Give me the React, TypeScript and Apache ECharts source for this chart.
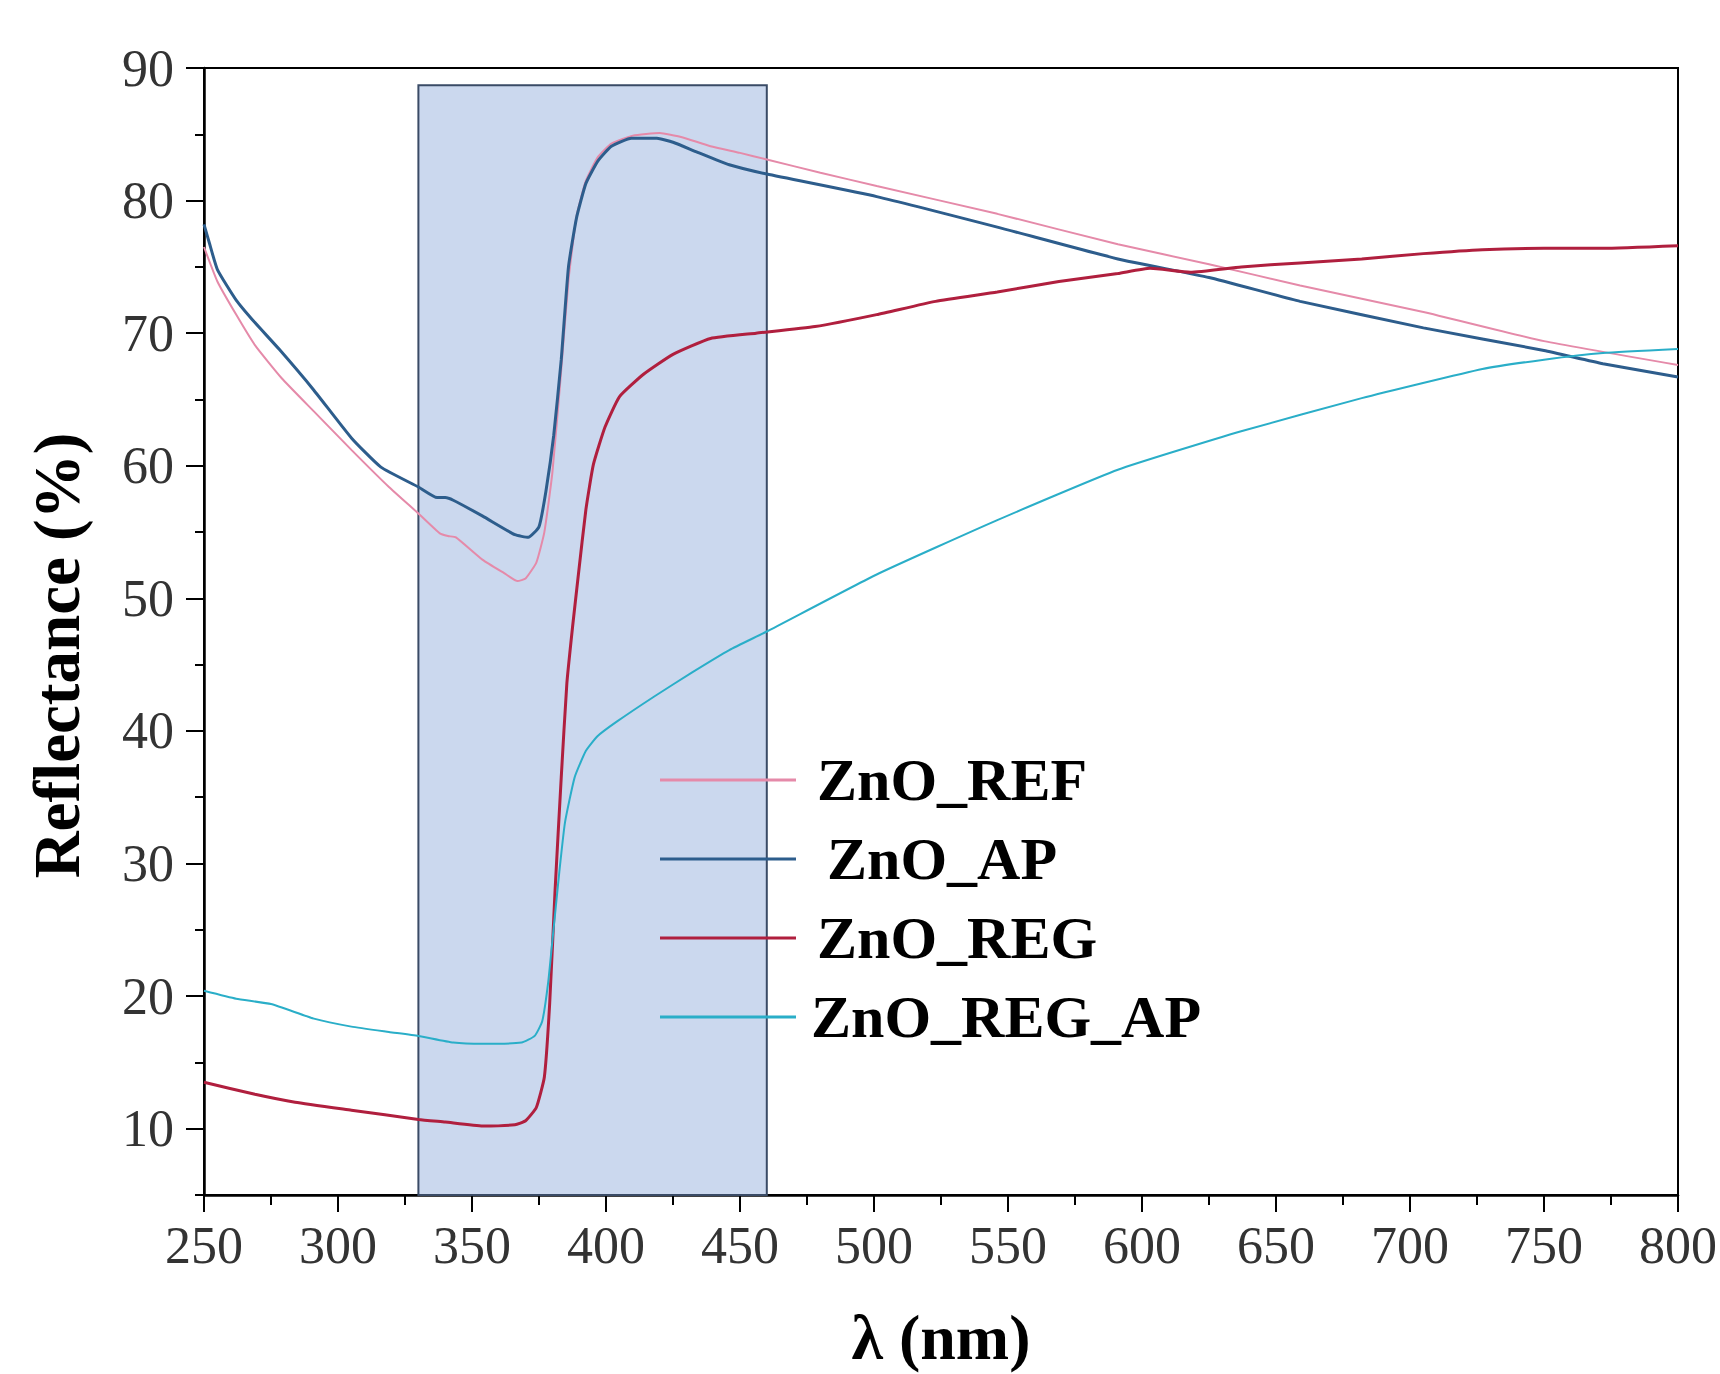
import React, { useEffect, useRef } from 'react';
import * as echarts from 'echarts';

// ---- data ----
const seriesNames = ['ZnO_REF', 'ZnO_AP', 'ZnO_REG', 'ZnO_REG_AP'];

const refWl = [250, 255, 262, 269, 279, 291, 305, 319, 330, 338, 341, 344, 354, 362, 367, 370, 374, 377, 380, 383, 386, 389, 392.5, 397, 402, 410, 420, 428, 439, 450, 460, 480, 501, 546, 591, 625, 659, 705, 750, 800];
const refR = [76.5, 73.9, 71.4, 69.1, 66.6, 64.1, 61.2, 58.4, 56.4, 54.9, 54.7, 54.6, 52.9, 51.9, 51.3, 51.5, 52.7, 55.0, 59.5, 66.5, 74.0, 78.8, 81.5, 83.3, 84.3, 84.9, 85.1, 84.8, 84.1, 83.6, 83.1, 82.1, 81.1, 79.0, 76.7, 75.2, 73.6, 71.6, 69.4, 67.6];

const apWl = [250, 252, 255, 262, 269, 278, 291, 305, 316, 330, 337, 340, 343, 354, 366, 371, 375, 377.6, 380.5, 383.3, 386, 389, 392.5, 397, 402, 409.5, 419, 425, 433.5, 446, 460, 501, 546, 591, 625, 659, 705, 750, 772, 800];
const apR = [78.2, 76.8, 74.8, 72.5, 70.8, 68.8, 65.7, 62.1, 59.9, 58.4, 57.6, 57.6, 57.4, 56.2, 54.8, 54.6, 55.4, 58.1, 62.3, 68.0, 75.0, 78.7, 81.3, 83.0, 84.1, 84.7, 84.7, 84.4, 83.7, 82.7, 82.0, 80.3, 78.0, 75.6, 74.2, 72.4, 70.4, 68.7, 67.7, 66.7];

const regWl = [250, 269, 284, 305, 330, 340, 354, 366, 370, 374, 377, 379, 381, 383.3, 385.4, 387.5, 389.7, 392.5, 395.3, 399.6, 405, 414, 425, 439, 456, 478, 501, 523, 546, 569, 591, 603, 618, 637, 659, 682, 705, 727, 750, 772, 800];
const regR = [13.5, 12.6, 12.0, 11.4, 10.7, 10.5, 10.2, 10.3, 10.6, 11.6, 13.9, 19.5, 28.0, 36.5, 43.6, 47.8, 51.8, 56.7, 60.1, 62.9, 65.2, 66.9, 68.4, 69.6, 70.0, 70.5, 71.4, 72.4, 73.1, 73.9, 74.5, 74.9, 74.6, 75.0, 75.3, 75.6, 76.0, 76.3, 76.4, 76.4, 76.6];

const regApWl = [250, 262, 275, 291, 305, 319, 330, 343, 354, 368.5, 373.4, 376.2, 378.4, 380.5, 382.6, 384.7, 388.3, 392.5, 396.8, 404, 418, 432, 446, 460, 501, 546, 591, 637, 682, 727, 750, 772, 800];
const regApR = [20.4, 19.8, 19.4, 18.3, 17.7, 17.3, 17.0, 16.5, 16.4, 16.5, 17.0, 18.1, 21.0, 25.2, 29.4, 33.1, 36.5, 38.5, 39.6, 40.7, 42.6, 44.4, 46.1, 47.5, 51.8, 55.9, 59.7, 62.6, 65.1, 67.3, 68.0, 68.5, 68.8];

// highlighted band (nm) and its top (%)
const bandX = [330, 460];
const bandTop = 88.7;

// axis ticks
const yMajorTicks = [10, 20, 30, 40, 50, 60, 70, 80, 90];
const yMinorTicks = [5, 15, 25, 35, 45, 55, 65, 75, 85];

const FONT = "'Liberation Serif', 'Times New Roman', serif";

const pairs = (xs: number[], ys: number[]) => xs.map((x, i) => [x, ys[i]]);

export default function App() {
  const ref = useRef<HTMLDivElement | null>(null);

  useEffect(() => {
    document.body.style.margin = '0';
    if (!ref.current) return;
    const chart = echarts.init(ref.current, null, { renderer: 'svg' });

    const colors = ['#e58aa9', '#2d5d8c', '#b01f3e', '#2aaec8'];
    const widths = [2, 3, 3, 2];
    const datas = [pairs(refWl, refR), pairs(apWl, apR), pairs(regWl, regR), pairs(regApWl, regApR)];
    const legendPads = [16, 26, 16, 10];

    const series: any[] = seriesNames.map((name, i) => ({
      name,
      type: 'line',
      data: datas[i],
      xAxisIndex: 0,
      yAxisIndex: 0,
      showSymbol: false,
      symbol: 'none',
      smooth: 0.15,
      lineStyle: { color: colors[i], width: widths[i] },
      itemStyle: { color: colors[i] },
      z: 3 + i,
    }));
    series[0].markArea = {
      silent: true,
      z: 1,
      itemStyle: { color: '#cbd8ee', borderColor: '#3a4b66', borderWidth: 2 },
      data: [[{ xAxis: bandX[0], yAxis: bandTop }, { xAxis: bandX[1], yAxis: 5 }]],
    };

    chart.setOption({
      animation: false,
      backgroundColor: '#ffffff',
      grid: {
        left: 204,
        right: 28,
        top: 68,
        bottom: 154,
        show: true,
        borderColor: '#000',
        borderWidth: 2,
        backgroundColor: 'transparent',
        containLabel: false,
      },
      legend: {
        orient: 'vertical',
        left: 660,
        top: 750,
        padding: 0,
        icon: 'rect',
        itemWidth: 136,
        itemHeight: 3,
        itemGap: 19,
        selectedMode: false,
        data: seriesNames.map((name, i) => ({
          name,
          itemStyle: { color: colors[i] },
          textStyle: { padding: [0, 0, 0, legendPads[i]] },
        })),
        textStyle: {
          fontFamily: FONT,
          fontWeight: 'bold',
          fontSize: 60,
          lineHeight: 60,
          color: '#000',
        },
      },
      xAxis: {
        type: 'value',
        min: 250,
        max: 800,
        interval: 50,
        name: 'λ (nm)',
        nameLocation: 'middle',
        nameGap: 110,
        nameTextStyle: { fontFamily: FONT, fontWeight: 'bold', fontSize: 64, color: '#000' },
        axisLine: { show: true, lineStyle: { color: '#000', width: 2.5 } },
        axisTick: { show: true, inside: false, length: 17, lineStyle: { color: '#000', width: 2 } },
        minorTick: { show: true, splitNumber: 2, length: 10, lineStyle: { color: '#000', width: 2 } },
        axisLabel: { margin: 24, fontFamily: FONT, fontSize: 52, color: '#333' },
        splitLine: { show: false },
        minorSplitLine: { show: false },
      },
      yAxis: [
        {
          type: 'value',
          min: 5,
          max: 90,
          interval: 5,
          position: 'left',
          name: 'Reflectance (%)',
          nameLocation: 'middle',
          nameGap: 115,
          nameTextStyle: {
            fontFamily: FONT,
            fontWeight: 'bold',
            fontSize: 65,
            color: '#000',
            padding: [0, 48, 0, 0],
          },
          axisLine: { show: true, lineStyle: { color: '#000', width: 2.5 } },
          axisTick: { show: true, inside: false, length: 18, customValues: yMajorTicks, lineStyle: { color: '#000', width: 2 } },
          axisLabel: {
            margin: 30,
            fontFamily: FONT,
            fontSize: 52,
            color: '#333',
            customValues: yMajorTicks,
            formatter: (v: number) => (v % 10 === 0 ? String(v) : ''),
          },
          splitLine: { show: false },
        },
        {
          type: 'value',
          min: 5,
          max: 90,
          interval: 5,
          position: 'left',
          offset: 0,
          axisLine: { show: false },
          axisTick: { show: true, inside: false, length: 9, customValues: yMinorTicks, lineStyle: { color: '#000', width: 2 } },
          axisLabel: { show: false },
          splitLine: { show: false },
        },
      ],
      series,
    });

    return () => chart.dispose();
  }, []);

  return <div ref={ref} style={{ width: 1720, height: 1374 }} />;
}
